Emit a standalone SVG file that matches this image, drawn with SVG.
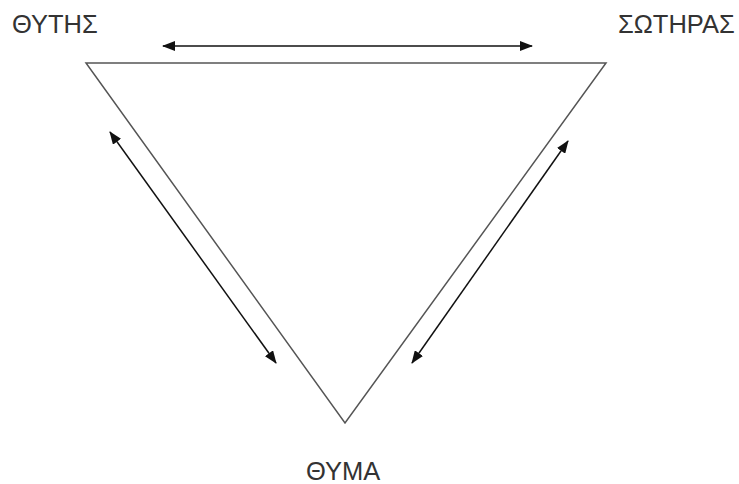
<svg xmlns="http://www.w3.org/2000/svg" width="739" height="484" viewBox="0 0 739 484">
<style>
.lbl{font-family:"Liberation Sans",Arial,sans-serif;font-size:25.5px;fill:#333;}
.tri{fill:none;stroke:#555;stroke-width:1.5;}
.arr{stroke:#111;stroke-width:1.5;fill:none;marker-start:url(#ah);marker-end:url(#ah);}
</style>
<defs>
<marker id="ah" viewBox="0 0 13 10" refX="12" refY="5" markerWidth="13" markerHeight="10" markerUnits="userSpaceOnUse" orient="auto-start-reverse">
<path d="M0,0 L13,5 L0,10 Z" fill="#111"/>
</marker>
</defs>
<rect width="739" height="484" fill="#fff"/>
<g id="triangle"><polygon class="tri" points="86,63 606,63 345,423"/></g>
<g id="n-thytis"><text class="lbl" x="12" y="33">ΘΥΤΗΣ</text></g>
<g id="n-sotiras"><text class="lbl" x="618" y="33">ΣΩΤΗΡΑΣ</text></g>
<g id="n-thyma"><text class="lbl" x="306" y="480">ΘΥΜΑ</text></g>
<g id="connectors">
<line class="arr" x1="163" y1="46" x2="532" y2="46"/>
<line class="arr" x1="110" y1="132" x2="276" y2="363"/>
<line class="arr" x1="568" y1="141" x2="412" y2="363"/>
</g>
</svg>
